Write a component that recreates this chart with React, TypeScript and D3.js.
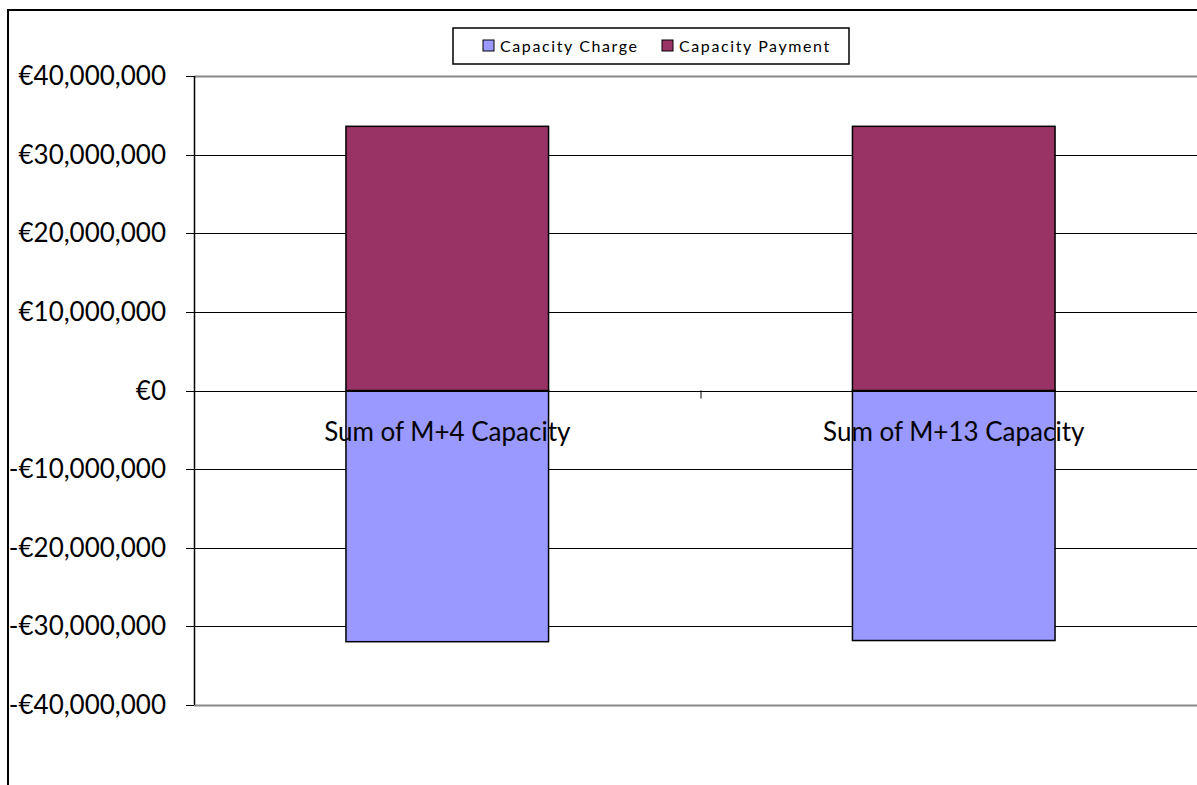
import React from "react";
import * as d3 from "d3";

const categories = ["Sum of M+4 Capacity", "Sum of M+13 Capacity"];
const capacityCharge = [-31950000, -31800000];
const capacityPayment = [33600000, 33600000];
const seriesNames = ["Capacity Charge", "Capacity Payment"];
const seriesColors = ["#9999FF", "#993366"];
const yTicks = [40000000, 30000000, 20000000, 10000000, 0, -10000000, -20000000, -30000000, -40000000];

const W = 1197, H = 785;
const plot = { left: 194, right: 1207, top: 76, bottom: 705 };

function fmt(v: number) {
  const s = d3.format(",")(Math.abs(v));
  return (v < 0 ? "-€" : "€") + s;
}

export default function App() {
  const y = d3.scaleLinear().domain([-40000000, 40000000]).range([plot.bottom, plot.top]);
  const x = d3.scaleBand().domain(categories).range([plot.left, plot.right]).paddingInner(0).paddingOuter(0);
  const bw = x.bandwidth() * 0.4;
  const font = "Lato, 'Open Sans', sans-serif";
  const yy = (t: number) => Math.round(y(t)) + 0.5;
  return (
    <svg width={W} height={H} style={{ position: "absolute", left: 0, top: 0, background: "#fff" }}>
      <rect x={8} y={10} width={W + 20} height={H + 20} fill="#fff" stroke="#000" strokeWidth={2} />
      {yTicks.map((t) => {
        const edge = t === 40000000 || t === -40000000;
        return (
          <g key={t}>
            <line x1={plot.left} x2={W} y1={yy(t)} y2={yy(t)} stroke={edge ? "#888" : "#000"} strokeWidth={edge ? 2 : 1} />
            <line x1={186} x2={plot.left} y1={yy(t)} y2={yy(t)} stroke="#000" strokeWidth={1} />
            <text x={166} y={y(t)} dy="0.35em" textAnchor="end" fontFamily={font} fontSize={26} fill="#000">
              {fmt(t)}
            </text>
          </g>
        );
      })}
      <line x1={plot.left + 0.5} x2={plot.left + 0.5} y1={plot.top} y2={plot.bottom} stroke="#000" strokeWidth={1.5} />
      {categories.map((c, i) => {
        const cx = (x(c) as number) + x.bandwidth() / 2;
        return (
          <g key={c}>
            <rect x={cx - bw / 2} y={y(0)} width={bw} height={y(capacityCharge[i]) - y(0)} fill={seriesColors[0]} stroke="#000" strokeWidth={1.5} />
            <rect x={cx - bw / 2} y={y(capacityPayment[i])} width={bw} height={y(0) - y(capacityPayment[i])} fill={seriesColors[1]} stroke="#000" strokeWidth={1.5} />
          </g>
        );
      })}
      <line x1={plot.left} x2={W} y1={yy(0)} y2={yy(0)} stroke="#000" strokeWidth={1} />
      {categories.slice(1).map((c) => (
        <line key={c} x1={(x(c) as number) + 0.5} x2={(x(c) as number) + 0.5} y1={y(0)} y2={y(0) + 8} stroke="#000" strokeWidth={1} />
      ))}
      {categories.map((c) => (
        <text key={c} x={(x(c) as number) + x.bandwidth() / 2} y={441} textAnchor="middle" fontFamily={font} fontSize={26} fill="#000">
          {c}
        </text>
      ))}
      <g>
        <rect x={453} y={28} width={396} height={36} fill="#fff" stroke="#000" strokeWidth={1.5} />
        {seriesNames.map((s, i) => {
          const lx = i === 0 ? 483 : 662;
          return (
            <g key={s}>
              <rect x={lx} y={40} width={11} height={11} fill={seriesColors[i]} stroke="#000" strokeWidth={1} />
              <text x={lx + 17} y={46} dy="0.35em" fontFamily={font} fontSize={16} letterSpacing={1.6} fill="#000">
                {s}
              </text>
            </g>
          );
        })}
      </g>
    </svg>
  );
}
